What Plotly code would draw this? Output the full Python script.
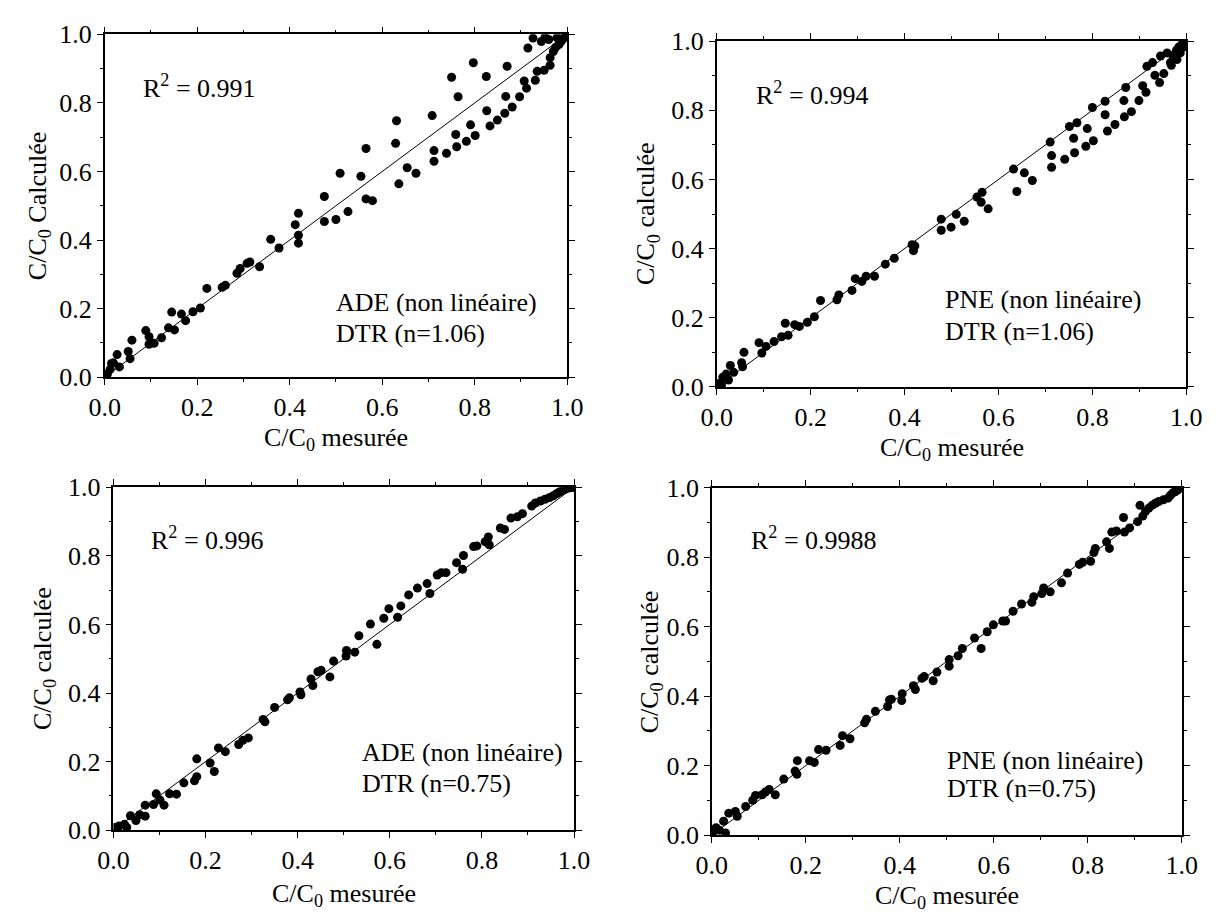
import plotly.graph_objects as go

W, H = 1227, 922
FONT = "Liberation Serif, 'Times New Roman', Times, serif"

# ---------------- data ----------------
# Panel A: ADE (non linéaire), DTR n=1.06
ade106_x = [0.003,0.006,0.012,0.015,0.019,0.027,0.032,0.051,0.055,0.059,0.089,0.096,0.096,0.107,0.123,0.138,0.145,0.151,0.166,0.175,0.191,0.207,0.221,0.254,0.261,0.286,0.293,0.308,0.314,0.335,0.359,0.377,0.412,0.419,0.419,0.419,0.475,0.475,0.500,0.509,0.526,0.554,0.565,0.565,0.579,0.629,0.631,0.636,0.654,0.673,0.708,0.712,0.712,0.739,0.750,0.759,0.761,0.764,0.782,0.791,0.797,0.801,0.825,0.826,0.833,0.849,0.865,0.867,0.870,0.881,0.897,0.907,0.912,0.915,0.926,0.931,0.935,0.944,0.950,0.952,0.960,0.963,0.963,0.970,0.975,0.978,0.982,0.986,0.990,0.994,0.997,1.000]
ade106_y = [0.002,0.009,0.023,0.040,0.042,0.066,0.030,0.075,0.054,0.108,0.136,0.118,0.096,0.099,0.115,0.144,0.190,0.138,0.184,0.165,0.191,0.202,0.259,0.262,0.268,0.303,0.317,0.332,0.336,0.322,0.402,0.377,0.445,0.478,0.414,0.391,0.527,0.454,0.460,0.595,0.483,0.586,0.667,0.520,0.515,0.682,0.748,0.564,0.611,0.595,0.763,0.661,0.630,0.653,0.875,0.708,0.672,0.818,0.688,0.736,0.917,0.705,0.877,0.777,0.733,0.750,0.770,0.819,0.907,0.788,0.818,0.864,0.843,0.960,0.989,0.866,0.892,0.979,0.895,0.992,0.985,0.932,0.910,0.950,0.962,0.990,0.970,0.978,0.985,0.992,0.997,1.000]

# Panel B: PNE (non linéaire), DTR n=1.06
pne106_x = [0.005,0.010,0.013,0.020,0.025,0.029,0.036,0.053,0.055,0.058,0.090,0.096,0.105,0.122,0.138,0.146,0.152,0.166,0.176,0.193,0.208,0.221,0.256,0.260,0.288,0.295,0.309,0.318,0.336,0.359,0.378,0.416,0.422,0.419,0.478,0.478,0.499,0.510,0.527,0.554,0.565,0.563,0.578,0.632,0.639,0.655,0.672,0.710,0.713,0.713,0.741,0.751,0.760,0.762,0.767,0.786,0.789,0.800,0.802,0.827,0.827,0.832,0.848,0.867,0.868,0.871,0.883,0.899,0.907,0.914,0.916,0.928,0.933,0.943,0.945,0.952,0.959,0.966,0.968,0.972,0.976,0.979,0.980,0.984,0.987,0.990,0.994,0.995,1.000]
pne106_y = [0.010,0.005,0.028,0.037,0.020,0.062,0.042,0.070,0.058,0.100,0.128,0.098,0.117,0.131,0.145,0.184,0.149,0.180,0.175,0.187,0.203,0.250,0.252,0.266,0.279,0.313,0.305,0.320,0.320,0.355,0.372,0.411,0.408,0.394,0.485,0.453,0.462,0.499,0.479,0.549,0.563,0.534,0.515,0.630,0.565,0.619,0.597,0.708,0.669,0.635,0.658,0.753,0.719,0.677,0.764,0.696,0.747,0.808,0.712,0.826,0.787,0.740,0.759,0.828,0.781,0.866,0.796,0.828,0.871,0.852,0.927,0.938,0.901,0.880,0.957,0.906,0.966,0.938,0.930,0.955,0.962,0.974,0.947,0.983,0.966,0.990,0.997,0.983,1.000]

# Panel C: ADE (non linéaire), DTR n=0.75
ade075_x = [0.002,0.012,0.024,0.029,0.037,0.049,0.057,0.069,0.069,0.087,0.093,0.101,0.110,0.122,0.137,0.153,0.176,0.181,0.181,0.210,0.219,0.228,0.243,0.272,0.281,0.293,0.325,0.329,0.350,0.378,0.382,0.405,0.407,0.429,0.433,0.444,0.451,0.470,0.478,0.505,0.506,0.524,0.533,0.558,0.572,0.587,0.598,0.617,0.624,0.641,0.660,0.681,0.687,0.703,0.712,0.722,0.745,0.758,0.760,0.782,0.789,0.807,0.814,0.816,0.840,0.849,0.863,0.877,0.888,0.908,0.916,0.927,0.937,0.947,0.955,0.962,0.968,0.974,0.980,0.986,0.992,0.997,1.000]
ade075_y = [0.008,0.012,0.017,0.008,0.042,0.028,0.045,0.041,0.073,0.075,0.106,0.088,0.073,0.106,0.105,0.138,0.144,0.156,0.208,0.196,0.171,0.240,0.229,0.250,0.262,0.269,0.323,0.316,0.358,0.380,0.386,0.403,0.395,0.441,0.422,0.462,0.466,0.447,0.493,0.508,0.524,0.519,0.567,0.601,0.542,0.618,0.646,0.621,0.654,0.686,0.706,0.719,0.690,0.744,0.751,0.751,0.780,0.761,0.801,0.827,0.829,0.841,0.855,0.832,0.881,0.877,0.910,0.914,0.923,0.945,0.954,0.960,0.965,0.970,0.975,0.981,0.986,0.990,0.994,0.997,0.999,1.000,1.000]

# Panel D: PNE (non linéaire), DTR n=0.75
pne075_x = [0.001,0.009,0.016,0.025,0.029,0.036,0.050,0.054,0.072,0.087,0.093,0.107,0.114,0.122,0.135,0.153,0.177,0.181,0.182,0.208,0.218,0.227,0.243,0.273,0.278,0.294,0.325,0.329,0.348,0.374,0.378,0.382,0.404,0.405,0.429,0.433,0.447,0.452,0.471,0.479,0.505,0.505,0.524,0.533,0.559,0.573,0.586,0.599,0.619,0.625,0.641,0.659,0.681,0.685,0.702,0.706,0.720,0.744,0.757,0.782,0.789,0.806,0.813,0.816,0.840,0.846,0.851,0.861,0.876,0.878,0.889,0.906,0.911,0.917,0.923,0.930,0.937,0.944,0.951,0.961,0.971,0.976,0.981,0.986,0.991,0.995,1.000]
pne075_y = [0.003,0.021,0.014,0.040,0.006,0.063,0.068,0.054,0.082,0.100,0.114,0.116,0.124,0.131,0.116,0.161,0.184,0.175,0.214,0.214,0.209,0.246,0.244,0.258,0.286,0.277,0.323,0.333,0.356,0.370,0.389,0.391,0.387,0.407,0.430,0.419,0.451,0.456,0.444,0.469,0.505,0.486,0.516,0.537,0.567,0.537,0.585,0.605,0.616,0.616,0.644,0.665,0.670,0.686,0.695,0.711,0.700,0.726,0.754,0.779,0.785,0.788,0.813,0.825,0.844,0.825,0.872,0.875,0.914,0.872,0.884,0.902,0.949,0.918,0.932,0.941,0.949,0.955,0.960,0.965,0.970,0.978,0.985,0.988,0.993,0.997,1.000]

diag_x = [0.0, 1.0]
diag_y = [0.0, 1.0]

r2_labels = ["R<sup>2</sup> = 0.991", "R<sup>2</sup> = 0.994", "R<sup>2</sup> = 0.996", "R<sup>2</sup> = 0.9988"]
model_labels = ["ADE (non linéaire)", "PNE (non linéaire)", "ADE (non linéaire)", "PNE (non linéaire)"]
dtr_labels = ["DTR (n=1.06)", "DTR (n=1.06)", "DTR (n=0.75)", "DTR (n=0.75)"]
x_titles = ["C/C<sub>0</sub> mesurée"] * 4
y_titles = ["C/C<sub>0</sub> Calculée", "C/C<sub>0</sub> calculée", "C/C<sub>0</sub> calculée", "C/C<sub>0</sub> calculée"]
tick_vals = [0.0, 0.2, 0.4, 0.6, 0.8, 1.0]
tick_text = ["0.0", "0.2", "0.4", "0.6", "0.8", "1.0"]

series = [(ade106_x, ade106_y), (pne106_x, pne106_y), (ade075_x, ade075_y), (pne075_x, pne075_y)]

# ---------------- layout geometry (pixels) ----------------
# left, right, top, bottom of each plot area
boxes = [(91, 566, 21, 375), (719.5, 1201.7, 28, 385), (100, 573, 488.6, 842.7), (714.5, 1197, 489, 847.7)]
r2_pos = [(0.078, 0.847), (0.079, 0.849), (0.078, 0.850), (0.079, 0.853)]
model_pos = [(0.495, 0.217, 0.127), (0.482, 0.252, 0.159), (0.535, 0.226, 0.136), (0.497, 0.214, 0.134)]
xtitle_y = [439, 449, 910, 912]
ytitle_x = [23, 648, 28, 652]

def px(xp):
    return xp / W

def py(yp):
    return 1 - yp / H

fig = go.Figure()
layout = dict(
    width=W, height=H,
    margin=dict(l=0, r=0, t=0, b=0),
    paper_bgcolor="white", plot_bgcolor="white",
    showlegend=False,
    font=dict(family=FONT, size=26, color="black"),
)
annotations = []
tfont = dict(family=FONT, size=26, color="black")

for i, ((sx, sy), (l, r, t, b)) in enumerate(zip(series, boxes)):
    n = i + 1
    xa = "x" if n == 1 else f"x{n}"
    ya = "y" if n == 1 else f"y{n}"
    fig.add_trace(go.Scatter(x=diag_x, y=diag_y, mode="lines",
                             line=dict(color="black", width=1),
                             xaxis=xa, yaxis=ya, hoverinfo="skip"))
    fig.add_trace(go.Scatter(x=sx, y=sy, mode="markers",
                             marker=dict(color="black", size=9),
                             xaxis=xa, yaxis=ya))
    axis_common = dict(
        range=[0, 1], showgrid=False, zeroline=False,
        showline=True, linecolor="black", linewidth=1.5, mirror="ticks",
        ticks="outside", ticklen=6, tickwidth=1.2, tickcolor="black",
        tickvals=tick_vals, ticktext=tick_text,
        tickfont=tfont,
        minor=dict(dtick=0.1, tick0=0, ticks="outside", ticklen=3, tickwidth=1, tickcolor="black"),
        fixedrange=True,
    )
    layout["xaxis" if n == 1 else f"xaxis{n}"] = dict(
        axis_common, domain=[px(l), px(r)], anchor=ya)
    layout["yaxis" if n == 1 else f"yaxis{n}"] = dict(
        axis_common, domain=[py(b), py(t)], anchor=xa)

    annotations.append(dict(x=r2_pos[i][0], y=r2_pos[i][1], xref=xa, yref=ya,
                            text=r2_labels[i], showarrow=False, xanchor="left", yanchor="middle",
                            font=tfont))
    mx, my1, my2 = model_pos[i]
    annotations.append(dict(x=mx, y=my1, xref=xa, yref=ya, text=model_labels[i], showarrow=False,
                            xanchor="left", yanchor="middle", font=tfont))
    annotations.append(dict(x=mx, y=my2, xref=xa, yref=ya, text=dtr_labels[i], showarrow=False,
                            xanchor="left", yanchor="middle", font=tfont))
    annotations.append(dict(x=px((l + r) / 2), y=py(xtitle_y[i]), xref="paper", yref="paper",
                            text=x_titles[i], showarrow=False, xanchor="center", yanchor="middle",
                            font=tfont))
    annotations.append(dict(x=px(ytitle_x[i]), y=py((t + b) / 2), xref="paper", yref="paper",
                            text=y_titles[i], showarrow=False, xanchor="center", yanchor="middle",
                            textangle=-90, font=tfont))

layout["annotations"] = annotations
fig.update_layout(**layout)
fig.write_html("out.html")
